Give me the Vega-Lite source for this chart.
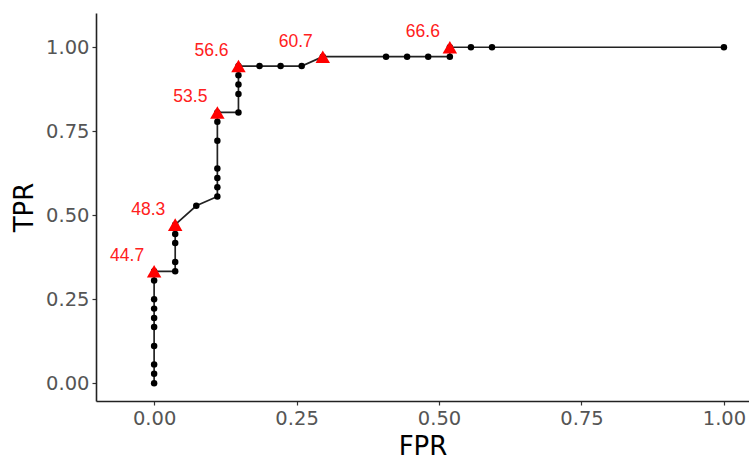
{
  "$schema": "https://vega.github.io/schema/vega-lite/v6.json",
  "width": 653,
  "height": 388,
  "autosize": {"type": "none"},
  "padding": {"left": 96, "top": 13, "right": 0, "bottom": 62},
  "background": "white",
  "config": {"view": {"stroke": null}},
  "data": {
    "values": [
      {"i": 1, "fpr": 0, "tpr": 0},
      {"i": 2, "fpr": 0, "tpr": 0.028},
      {"i": 3, "fpr": 0, "tpr": 0.056},
      {"i": 4, "fpr": 0, "tpr": 0.111},
      {"i": 5, "fpr": 0, "tpr": 0.167},
      {"i": 6, "fpr": 0, "tpr": 0.194},
      {"i": 7, "fpr": 0, "tpr": 0.222},
      {"i": 8, "fpr": 0, "tpr": 0.25},
      {"i": 9, "fpr": 0, "tpr": 0.306},
      {"i": 10, "fpr": 0, "tpr": 0.333, "label": "44.7"},
      {"i": 11, "fpr": 0.037, "tpr": 0.333},
      {"i": 12, "fpr": 0.037, "tpr": 0.361},
      {"i": 13, "fpr": 0.037, "tpr": 0.417},
      {"i": 14, "fpr": 0.037, "tpr": 0.444},
      {"i": 15, "fpr": 0.037, "tpr": 0.472, "label": "48.3"},
      {"i": 16, "fpr": 0.074, "tpr": 0.528},
      {"i": 17, "fpr": 0.111, "tpr": 0.556},
      {"i": 18, "fpr": 0.111, "tpr": 0.583},
      {"i": 19, "fpr": 0.111, "tpr": 0.611},
      {"i": 20, "fpr": 0.111, "tpr": 0.639},
      {"i": 21, "fpr": 0.111, "tpr": 0.722},
      {"i": 22, "fpr": 0.111, "tpr": 0.778},
      {"i": 23, "fpr": 0.111, "tpr": 0.806, "label": "53.5"},
      {"i": 24, "fpr": 0.148, "tpr": 0.806},
      {"i": 25, "fpr": 0.148, "tpr": 0.861},
      {"i": 26, "fpr": 0.148, "tpr": 0.889},
      {"i": 27, "fpr": 0.148, "tpr": 0.917},
      {"i": 28, "fpr": 0.148, "tpr": 0.944, "label": "56.6"},
      {"i": 29, "fpr": 0.185, "tpr": 0.944},
      {"i": 30, "fpr": 0.222, "tpr": 0.944},
      {"i": 31, "fpr": 0.259, "tpr": 0.944},
      {"i": 32, "fpr": 0.296, "tpr": 0.972, "label": "60.7"},
      {"i": 33, "fpr": 0.407, "tpr": 0.972},
      {"i": 34, "fpr": 0.444, "tpr": 0.972},
      {"i": 35, "fpr": 0.481, "tpr": 0.972},
      {"i": 36, "fpr": 0.519, "tpr": 0.972},
      {"i": 37, "fpr": 0.519, "tpr": 1, "label": "66.6"},
      {"i": 38, "fpr": 0.556, "tpr": 1},
      {"i": 39, "fpr": 0.593, "tpr": 1},
      {"i": 40, "fpr": 1, "tpr": 1}
    ]
  },
  "encoding": {
    "x": {
      "field": "fpr", "type": "quantitative",
      "scale": {"domain": [-0.102, 1.044], "nice": false, "zero": false},
      "axis": {
        "title": "FPR", "values": [0, 0.25, 0.5, 0.75, 1], "format": ".2f",
        "grid": false, "domainColor": "#222222", "domainWidth": 1.6,
        "tickColor": "#333333", "tickWidth": 1.2, "tickSize": 4,
        "labelFont": "DejaVu Sans", "labelFontSize": 19.5, "labelColor": "#555555", "labelPadding": 4,
        "titleFont": "DejaVu Sans", "titleFontSize": 26, "titleFontWeight": "normal", "titleColor": "#000000", "titlePadding": 6
      }
    },
    "y": {
      "field": "tpr", "type": "quantitative",
      "scale": {"domain": [-0.053, 1.102], "nice": false, "zero": false},
      "axis": {
        "title": "TPR", "values": [0, 0.25, 0.5, 0.75, 1], "format": ".2f",
        "grid": false, "domainColor": "#222222", "domainWidth": 1.6,
        "tickColor": "#333333", "tickWidth": 1.2, "tickSize": 4,
        "labelFont": "DejaVu Sans", "labelFontSize": 19.5, "labelColor": "#555555", "labelPadding": 3,
        "titleFont": "DejaVu Sans", "titleFontSize": 26, "titleFontWeight": "normal", "titleColor": "#000000", "titlePadding": 8
      }
    }
  },
  "layer": [
    {
      "mark": {"type": "line", "color": "#222222", "strokeWidth": 1.7},
      "encoding": {"order": {"field": "i", "type": "quantitative"}}
    },
    {
      "mark": {"type": "point", "shape": "circle", "filled": true, "color": "#000000", "opacity": 1, "size": 42}
    },
    {
      "transform": [{"filter": "datum.label != null"}],
      "mark": {"type": "point", "shape": "triangle-up", "filled": true, "color": "#ff0000", "opacity": 1, "size": 210}
    },
    {
      "transform": [{"filter": "datum.label != null"}],
      "mark": {"type": "text", "color": "#ff2020", "font": "Liberation Sans", "fontSize": 17.5, "align": "center", "baseline": "middle", "dx": -27, "dy": -15},
      "encoding": {"text": {"field": "label", "type": "nominal"}}
    }
  ]
}
